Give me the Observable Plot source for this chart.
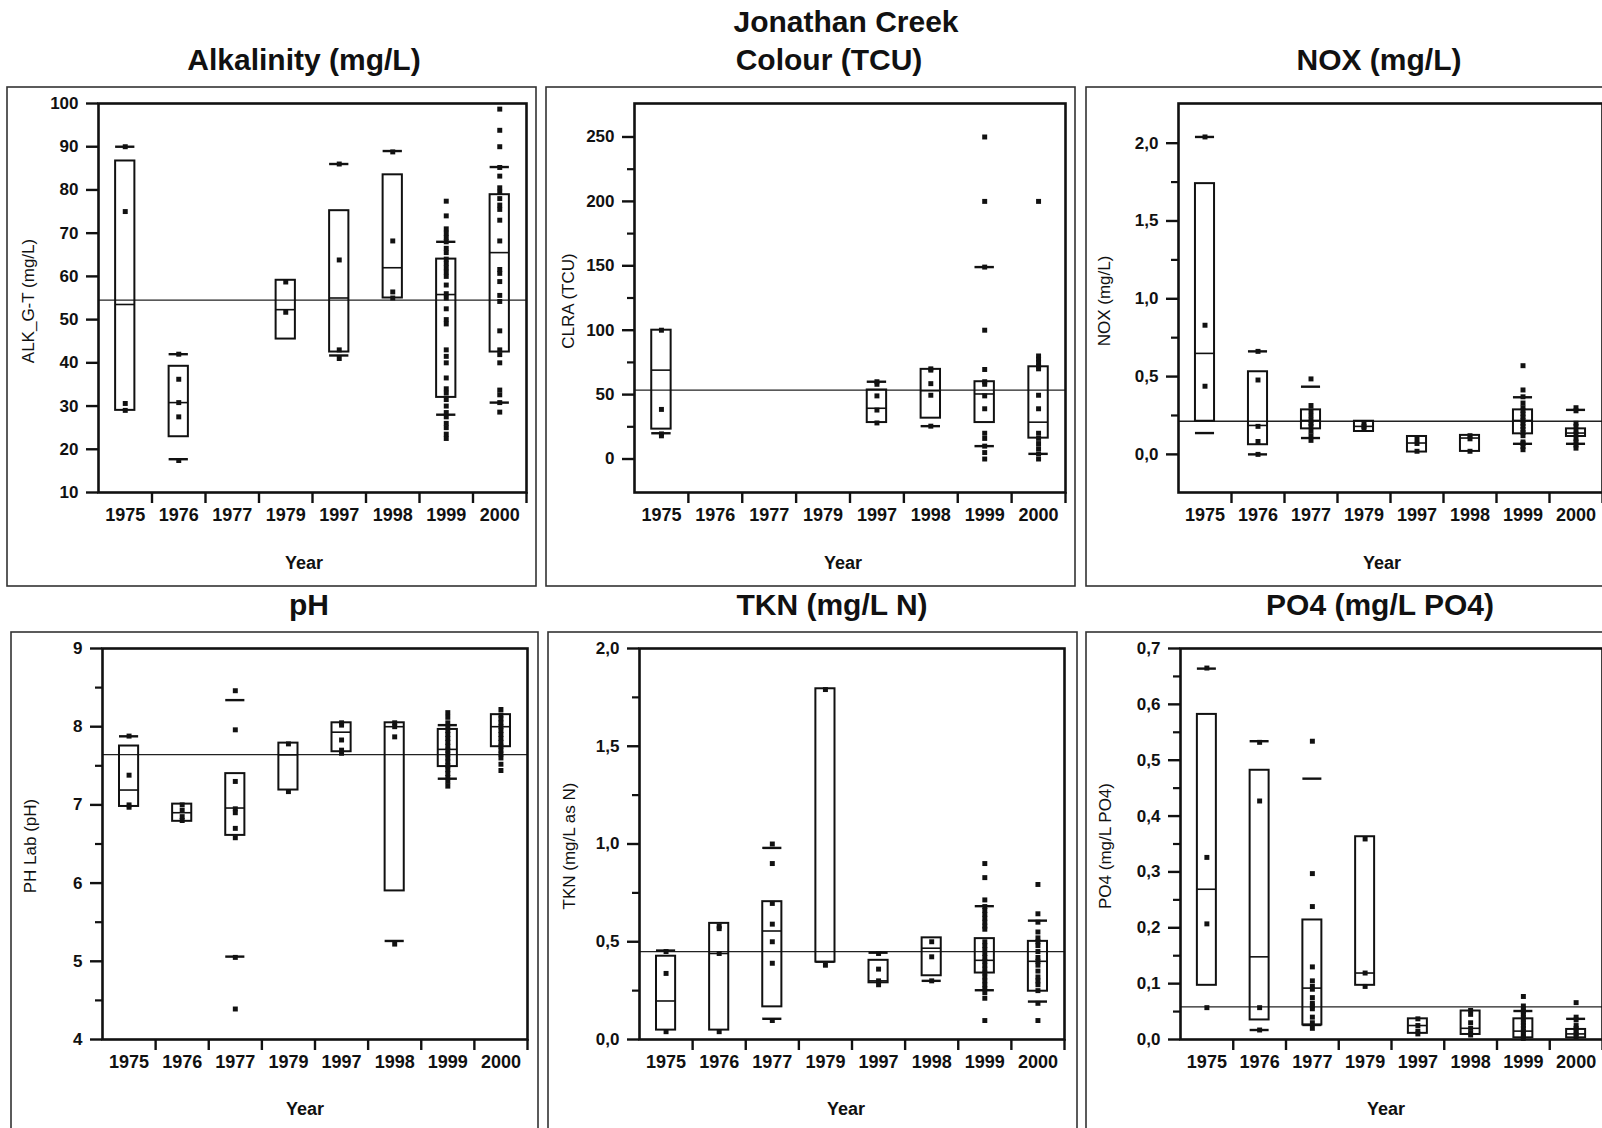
<!DOCTYPE html>
<html>
<head>
<meta charset="utf-8">
<script src="https://cdn.jsdelivr.net/npm/d3@7"></script>
<script src="https://cdn.jsdelivr.net/npm/@observablehq/plot@0.6"></script>
<style>
html,body{margin:0;padding:0;background:#fff;}
#page{position:relative;width:1602px;height:1128px;overflow:hidden;background:#fff;}
#page svg{position:absolute;overflow:visible;}
</style>
</head>
<body>
<div id="page"></div>
<script>
// ---------- shared categories ----------
const years = ["1975","1976","1977","1979","1997","1998","1999","2000"];
const mainTitle = "Jonathan Creek";

// ---------- Alkalinity (mg/L) ----------
const alkQ3  = [86.7, 39.2, null, 59.1, 75.2, 83.5, 64.0, 78.9];
const alkMed = [53.5, 30.8, null, 52.3, 55.0, 62.0, 55.8, 65.5];
const alkQ1  = [29.0, 22.9, null, 45.5, 42.5, 55.0, 32.0, 42.5];
const alkP90 = [90.0, 42.0, null, null, 86.0, 89.0, 68.0, 85.3];
const alkP10 = [null, 17.7, null, null, 41.7, null, 28.0, 30.8];
const alkPts = [
  [90, 75, 30.6, 29],
  [42, 36.2, 30.8, 27.5, 17.4],
  [],
  [58.7, 51.7],
  [86, 63.8, 43, 41],
  [88.8, 68.2, 56.4, 55],
  [77.4, 74, 71, 70, 69, 68, 66.5, 65.5, 64, 63, 62, 61, 60, 58, 56, 55, 52.5, 50, 49, 43, 41.5, 40, 36.5, 34, 33, 31.5, 30, 28.5, 27.5, 26, 25, 23.5, 22.5],
  [98.7, 93.8, 90, 85.2, 83.2, 80.5, 79.5, 78, 76.5, 75.5, 73, 68.2, 61.6, 60.7, 58.8, 55.6, 54.2, 47.4, 43, 41.9, 40, 33.7, 32.6, 30.8, 28.6]
];
const alkMean = 54.5;
const alkTicks = [10, 20, 30, 40, 50, 60, 70, 80, 90, 100];
const alkMinor = [];

// ---------- Colour (TCU) ----------
const clrQ3  = [100, null, null, null, 53.6, 69.6, 60.0, 71.6];
const clrMed = [69.0, null, null, null, 39.4, 53.0, 50.5, 28.6];
const clrQ1  = [23.2, null, null, null, 28.3, 31.7, 28.3, 16.2];
const clrP90 = [null, null, null, null, 60.0, null, 149, null];
const clrP10 = [20.0, null, null, null, null, 25.5, 10.0, 4.0];
const clrPts = [
  [100, 38.5, 19.5, 18],
  [], [], [],
  [60, 58, 49, 38, 28],
  [70, 69, 58.5, 49.5, 25.5],
  [250, 200, 149, 100, 69.5, 60, 58, 49, 39, 20, 16, 10, 5, 0],
  [200, 80, 77.5, 75, 72, 70, 49.5, 39, 20, 16, 12, 8, 4, 0]
];
const clrMean = 53.5;
const clrTicks = [0, 50, 100, 150, 200, 250];
const clrMinor = [25, 75, 125, 175, 225];

// ---------- NOX (mg/L) ----------
const noxQ3  = [1.74, 0.531, 0.286, 0.213, 0.115, 0.122, 0.286, 0.164];
const noxMed = [0.649, 0.186, 0.218, 0.180, 0.073, 0.105, 0.218, 0.137];
const noxQ1  = [0.213, 0.062, 0.164, 0.147, 0.015, 0.019, 0.132, 0.115];
const noxP90 = [2.04, 0.662, 0.435, null, null, null, 0.367, 0.286];
const noxP10 = [0.137, 0.0, 0.105, null, null, null, 0.068, 0.068];
const noxPts = [
  [2.04, 0.83, 0.438],
  [0.662, 0.478, 0.18, 0.083, 0.0],
  [0.485, 0.314, 0.28, 0.25, 0.22, 0.2, 0.18, 0.15, 0.12, 0.09],
  [0.2, 0.18, 0.16],
  [0.1, 0.07, 0.02],
  [0.12, 0.1, 0.02],
  [0.57, 0.414, 0.37, 0.33, 0.3, 0.28, 0.26, 0.24, 0.22, 0.2, 0.18, 0.16, 0.14, 0.12, 0.08, 0.07, 0.05, 0.03],
  [0.3, 0.28, 0.2, 0.18, 0.15, 0.13, 0.1, 0.08, 0.06, 0.04]
];
const noxMean = 0.213;
const noxTicks = [0, 0.5, 1.0, 1.5, 2.0];
const noxMinor = [0.25, 0.75, 1.25, 1.75];

// ---------- pH ----------
const phQ3  = [7.753, 7.01, 7.40, 7.79, 8.05, 8.05, 7.965, 8.154];
const phMed = [7.19, 6.90, 6.96, 7.64, 7.93, 8.00, 7.71, 8.00];
const phQ1  = [6.98, 6.79, 6.61, 7.19, 7.68, 5.90, 7.49, 7.744];
const phP90 = [7.877, null, 8.34, null, null, null, 8.02, null];
const phP10 = [null, null, 5.06, null, null, 5.26, 7.335, null];
const phPts = [
  [7.88, 7.38, 7.0, 6.97],
  [7.0, 6.93, 6.85, 6.8],
  [8.46, 7.96, 7.3, 6.95, 6.9, 6.7, 6.58, 5.05, 4.39],
  [7.78, 7.17],
  [8.05, 8.02, 7.83, 7.7, 7.66],
  [8.05, 8.0, 7.87, 5.22],
  [8.18, 8.12, 8.05, 8.0, 7.95, 7.9, 7.85, 7.8, 7.75, 7.7, 7.65, 7.6, 7.55, 7.5, 7.45, 7.4, 7.35, 7.3, 7.24],
  [8.22, 8.15, 8.1, 8.05, 8.0, 7.95, 7.9, 7.85, 7.8, 7.75, 7.7, 7.65, 7.6, 7.52, 7.44]
];
const phMean = 7.643;
const phTicks = [4, 5, 6, 7, 8, 9];
const phMinor = [4.5, 5.5, 6.5, 7.5, 8.5];

// ---------- TKN (mg/L N) ----------
const tknQ3  = [0.426, 0.594, 0.705, 1.794, 0.405, 0.520, 0.516, 0.502];
const tknMed = [0.197, 0.440, 0.555, 0.396, 0.300, 0.467, 0.405, 0.400];
const tknQ1  = [0.048, 0.048, 0.167, 0.396, 0.290, 0.326, 0.340, 0.247];
const tknP90 = [0.455, null, 0.98, null, 0.444, null, 0.682, 0.608];
const tknP10 = [null, null, 0.106, null, null, 0.300, 0.252, 0.194];
const tknPts = [
  [0.45, 0.338, 0.04],
  [0.58, 0.567, 0.44, 0.04],
  [1.0, 0.9, 0.696, 0.59, 0.5, 0.39, 0.097],
  [1.79, 0.38],
  [0.44, 0.36, 0.3, 0.28],
  [0.5, 0.423, 0.3],
  [0.9, 0.828, 0.714, 0.68, 0.66, 0.64, 0.62, 0.6, 0.58, 0.564, 0.5, 0.48, 0.46, 0.44, 0.42, 0.4, 0.38, 0.36, 0.34, 0.32, 0.3, 0.28, 0.26, 0.24, 0.211, 0.097],
  [0.793, 0.643, 0.6, 0.55, 0.52, 0.5, 0.48, 0.45, 0.42, 0.4, 0.38, 0.35, 0.32, 0.3, 0.28, 0.25, 0.185, 0.097]
];
const tknMean = 0.449;
const tknTicks = [0, 0.5, 1.0, 1.5, 2.0];
const tknMinor = [0.25, 0.75, 1.25, 1.75];

// ---------- PO4 (mg/L PO4) ----------
const po4Q3  = [0.582, 0.482, 0.214, 0.363, 0.037, 0.051, 0.037, 0.018];
const po4Med = [0.269, 0.148, 0.092, 0.119, 0.025, 0.020, 0.015, 0.010];
const po4Q1  = [0.097, 0.035, 0.026, 0.097, 0.011, 0.009, 0.003, 0.003];
const po4P90 = [0.664, 0.534, 0.467, null, null, null, 0.051, 0.037];
const po4P10 = [null, 0.017, 0.026, null, null, null, null, null];
const po4Pts = [
  [0.665, 0.326, 0.207, 0.057],
  [0.532, 0.427, 0.057, 0.017],
  [0.534, 0.297, 0.238, 0.13, 0.105, 0.095, 0.09, 0.075, 0.065, 0.06, 0.055, 0.04, 0.03, 0.02],
  [0.359, 0.119, 0.095],
  [0.037, 0.025, 0.015, 0.01],
  [0.052, 0.045, 0.03, 0.02, 0.012, 0.008],
  [0.077, 0.06, 0.055, 0.05, 0.045, 0.04, 0.035, 0.03, 0.025, 0.02, 0.015, 0.01, 0.005, 0.002],
  [0.066, 0.04, 0.035, 0.025, 0.02, 0.015, 0.01, 0.005]
];
const po4Mean = 0.0585;
const po4Ticks = [0, 0.1, 0.2, 0.3, 0.4, 0.5, 0.6, 0.7];
const po4Minor = [0.05, 0.15, 0.25, 0.35, 0.45, 0.55, 0.65];

// ---------- drawing ----------
const FONT = '"Liberation Sans", Arial, Helvetica, sans-serif';
const page = document.getElementById("page");
const comma = d => d3.format(".1f")(d).replace(".", ",");
const intf = d => String(d);

function panel(cfg) {
  const ML = 100, MR = 20, MT = 20, MB = 60;
  const pw = cfg.r - cfg.l, ph = cfg.b - cfg.t;
  const idx = years.map((d, i) => i);
  const boxes = idx.filter(i => cfg.q1[i] != null).map(i => ({i, q1: cfg.q1[i], med: cfg.med[i], q3: cfg.q3[i]}));
  const dashes = [];
  idx.forEach(i => {
    if (cfg.p10[i] != null) dashes.push({i, v: cfg.p10[i]});
    if (cfg.p90[i] != null) dashes.push({i, v: cfg.p90[i]});
  });
  const points = idx.flatMap(i => cfg.pts[i].map(v => ({i, v})));
  const hw = 0.18;
  const svg = Plot.plot({
    width: pw + ML + MR,
    height: ph + MT + MB,
    marginLeft: ML, marginRight: MR, marginTop: MT, marginBottom: MB,
    x: {domain: [0, years.length], axis: null},
    y: {domain: cfg.domain, axis: null},
    style: {fontFamily: FONT, color: "#111", background: "transparent", overflow: "visible"},
    marks: [
      Plot.ruleY([cfg.mean], {stroke: "#222", strokeWidth: 1.3}),
      Plot.rect(boxes, {x1: d => d.i + 0.5 - hw, x2: d => d.i + 0.5 + hw, y1: "q1", y2: "q3",
        fill: "none", stroke: "#111", strokeWidth: 2}),
      Plot.ruleY(boxes, {x1: d => d.i + 0.5 - hw, x2: d => d.i + 0.5 + hw, y: "med", stroke: "#111", strokeWidth: 1.6}),
      Plot.ruleY(dashes, {x1: d => d.i + 0.5 - hw, x2: d => d.i + 0.5 + hw, y: "v", stroke: "#111", strokeWidth: 2.4}),
      Plot.dot(points, {x: d => d.i + 0.5, y: "v", symbol: "square", r: 2.8, fill: "#111", stroke: "none"}),
      Plot.frame({stroke: "#111", strokeWidth: 2.6}),
      Plot.axisY({ticks: cfg.ticks, tickSize: 12, tickPadding: 8, tickFormat: cfg.fmt, label: null,
        strokeWidth: 2.4, fontSize: 17, fontWeight: "bold", fill: "#111"}),
      Plot.axisY({ticks: cfg.minor, tickSize: 7, tickFormat: () => "", label: null, strokeWidth: 2.2}),
      Plot.axisX({ticks: idx.map(i => i + 0.5), tickSize: 0, tickPadding: 16, label: null,
        tickFormat: t => years[Math.floor(t)], fontSize: 18, fontWeight: "bold", fill: "#111"}),
      Plot.axisX({ticks: idx.map(i => i + 1), tickSize: 11, tickFormat: () => "", label: null, strokeWidth: 2.4})
    ]
  });
  svg.style.left = (cfg.l - ML) + "px";
  svg.style.top = (cfg.t - MT) + "px";
  page.appendChild(svg);
}

// overlay for frames and texts
const ov = d3.select(page).append("svg")
  .attr("width", 1602).attr("height", 1128)
  .style("left", "0px").style("top", "0px")
  .style("font-family", FONT);

const layout = [
  {l: 98,   t: 103, r: 526,  b: 492,  fr: [7, 87, 529, 499],    title: "Alkalinity (mg/L)", tx: 304,  ty: 69.5, ylab: "ALK_G-T (mg/L)",   yx: 28,   yy: 301, xx: 304,  xy: 569,
   domain: [10, 100], ticks: alkTicks, minor: alkMinor, fmt: intf, q1: alkQ1, med: alkMed, q3: alkQ3, p10: alkP10, p90: alkP90, pts: alkPts, mean: alkMean},
  {l: 634,  t: 103, r: 1065, b: 492,  fr: [546, 87, 529, 499],  title: "Colour (TCU)",      tx: 829,  ty: 69.5, ylab: "CLRA (TCU)",       yx: 568,  yy: 301, xx: 843,  xy: 569,
   domain: [-26, 276], ticks: clrTicks, minor: clrMinor, fmt: intf, q1: clrQ1, med: clrMed, q3: clrQ3, p10: clrP10, p90: clrP90, pts: clrPts, mean: clrMean},
  {l: 1178, t: 103, r: 1602, b: 492,  fr: [1086, 87, 560, 499], title: "NOX (mg/L)",        tx: 1379, ty: 69.5, ylab: "NOX (mg/L)",       yx: 1104, yy: 301, xx: 1382, xy: 569,
   domain: [-0.245, 2.255], ticks: noxTicks, minor: noxMinor, fmt: comma, q1: noxQ1, med: noxMed, q3: noxQ3, p10: noxP10, p90: noxP90, pts: noxPts, mean: noxMean},
  {l: 102,  t: 648, r: 527,  b: 1039, fr: [11, 632, 527, 540],  title: "pH",                tx: 309,  ty: 615,  ylab: "PH Lab (pH)",      yx: 30,   yy: 846, xx: 305,  xy: 1115,
   domain: [4, 9], ticks: phTicks, minor: phMinor, fmt: intf, q1: phQ1, med: phMed, q3: phQ3, p10: phP10, p90: phP90, pts: phPts, mean: phMean},
  {l: 639,  t: 648, r: 1064, b: 1039, fr: [548, 632, 529, 540], title: "TKN (mg/L N)",      tx: 832,  ty: 615,  ylab: "TKN (mg/L as N)",  yx: 569,  yy: 846, xx: 846,  xy: 1115,
   domain: [0, 2], ticks: tknTicks, minor: tknMinor, fmt: comma, q1: tknQ1, med: tknMed, q3: tknQ3, p10: tknP10, p90: tknP90, pts: tknPts, mean: tknMean},
  {l: 1180, t: 648, r: 1602, b: 1039, fr: [1086, 632, 560, 540], title: "PO4 (mg/L PO4)",   tx: 1380, ty: 615,  ylab: "PO4 (mg/L PO4)",   yx: 1105, yy: 846, xx: 1386, xy: 1115,
   domain: [0, 0.7], ticks: po4Ticks, minor: po4Minor, fmt: comma, q1: po4Q1, med: po4Med, q3: po4Q3, p10: po4P10, p90: po4P90, pts: po4Pts, mean: po4Mean}
];

ov.append("text").attr("x", 846).attr("y", 32).attr("text-anchor", "middle")
  .attr("font-size", 30).attr("font-weight", "bold").attr("fill", "#111").text(mainTitle);

layout.forEach(c => {
  ov.append("rect").attr("x", c.fr[0]).attr("y", c.fr[1]).attr("width", c.fr[2]).attr("height", c.fr[3])
    .attr("fill", "none").attr("stroke", "#333").attr("stroke-width", 1.6);
  ov.append("text").attr("x", c.tx).attr("y", c.ty).attr("text-anchor", "middle")
    .attr("font-size", 30).attr("font-weight", "bold").attr("fill", "#111").text(c.title);
  ov.append("text").attr("transform", `translate(${c.yx},${c.yy}) rotate(-90)`)
    .attr("text-anchor", "middle").attr("dominant-baseline", "central")
    .attr("font-size", 17).attr("fill", "#111").text(c.ylab);
  ov.append("text").attr("x", c.xx).attr("y", c.xy).attr("text-anchor", "middle")
    .attr("font-size", 18).attr("font-weight", "bold").attr("fill", "#111").text("Year");
  panel(c);
});
</script>
</body>
</html>
